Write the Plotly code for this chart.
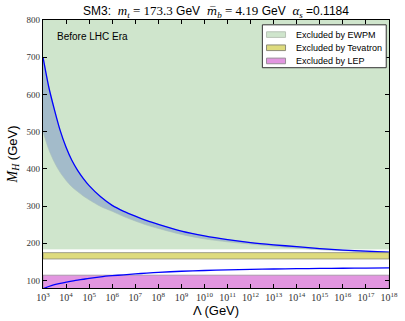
import numpy as np
import plotly.graph_objects as go

# Cutoff scale Lambda, as log10(Lambda / GeV)
log_lambda = [3, 3.25, 3.5, 3.75, 4, 4.25, 4.5, 4.75, 5, 5.5, 6, 6.5, 7, 7.5, 8, 9, 10,
              11, 12, 13, 14, 15, 16, 17, 18]

# Upper (triviality) bound on M_H and the lower edge of its uncertainty band, GeV
upper_bound = [700, 620, 558, 502, 458, 423, 396, 374, 355, 325, 302, 286, 273, 261, 251,
               233, 220, 210, 202, 196, 191, 186, 182, 179, 176]
upper_band_low = [500, 452, 417, 390, 369, 352, 339, 327, 317, 299, 286, 272, 260, 249, 240,
                  224, 212, 204, 198, 192, 187, 183, 180, 177, 175]

# Lower (vacuum stability) bound on M_H, GeV
stability_bound = [78, 84, 89, 92.5, 95.5, 98.5, 101, 103.5, 106, 110, 113, 115.5, 118, 120, 122,
                   125, 127, 128.5, 130, 131, 132, 132.5, 133, 133.5, 134]

# Excluded mass windows, GeV
ewpm_window = [185, 800]
tevatron_window = [158, 175]
lep_window = [60, 114.4]

legend_labels = ["Excluded by EWPM", "Excluded by Tevatron", "Excluded by LEP"]

x_tick_exponents = list(range(3, 19))
y_ticks = [100, 200, 300, 400, 500, 600, 700, 800]

lam = 10.0 ** np.array(log_lambda, dtype=float)
x_lo, x_hi = lam[0], lam[-1]

SANS = "Liberation Sans, Arial, sans-serif"
SERIF = "Liberation Serif, Times New Roman, serif"

fills = ["#cfe5cc", "#dedb7d", "#e296e0"]
edges = ["#b9c4b7", "#8c8c78", "#9a8f9a"]


def window_trace(lims, fill, edge):
    lo, hi = lims
    return go.Scatter(
        x=[x_lo, x_hi, x_hi, x_lo, x_lo],
        y=[lo, lo, hi, hi, lo],
        mode="lines",
        fill="toself",
        fillcolor=fill,
        line=dict(color=edge, width=0.8),
        showlegend=False,
        hoverinfo="skip",
    )


fig = go.Figure()

fig.add_trace(window_trace(ewpm_window, fills[0], fills[0]))

# Uncertainty band under the triviality bound
fig.add_trace(go.Scatter(
    x=list(lam) + list(lam[::-1]),
    y=upper_band_low + upper_bound[::-1],
    mode="lines",
    fill="toself",
    fillcolor="#a3bbca",
    line=dict(width=0.6, color="#a9bfb8", shape="spline", smoothing=0.8),
    showlegend=False,
    hoverinfo="skip",
))

fig.add_trace(go.Scatter(
    x=lam, y=upper_bound, mode="lines",
    line=dict(color="#0000ff", width=1.3, shape="spline", smoothing=0.8),
    showlegend=False,
))

fig.add_trace(window_trace(tevatron_window, fills[1], edges[1]))
fig.add_trace(window_trace(lep_window, fills[2], edges[2]))

fig.add_trace(go.Scatter(
    x=lam, y=stability_bound, mode="lines",
    line=dict(color="#0000ff", width=1.3, shape="spline", smoothing=0.8),
    showlegend=False,
))

# Legend box drawn in paper coordinates
shapes = [dict(
    type="rect", xref="paper", yref="paper",
    x0=0.634, x1=0.992, y0=0.822, y1=0.982,
    fillcolor="white", line=dict(color="#333333", width=1), layer="above",
)]
annotations = []
row_y = [0.9455, 0.8964, 0.8473]
for label, fill, edge, yc in zip(legend_labels, fills, edges, row_y):
    shapes.append(dict(
        type="rect", xref="paper", yref="paper",
        x0=0.646, x1=0.701, y0=yc - 0.0105, y1=yc + 0.0105,
        fillcolor=fill, line=dict(color=edge, width=1), layer="above",
    ))
    annotations.append(dict(
        text=label, x=0.724, xref="paper", xanchor="left",
        y=yc, yref="paper", yanchor="middle", showarrow=False,
        font=dict(family=SANS, size=9, color="black"),
    ))

annotations.append(dict(
    text="Before LHC Era",
    x=0.034, xref="paper", xanchor="left",
    y=0.94, yref="paper", yanchor="middle",
    showarrow=False,
    font=dict(family=SANS, size=10, color="black"),
))

MATH = "font-family:Liberation Serif;font-size:13px"
BAR = "font-family:DejaVu Serif;font-size:11px"
title = (
    f"SM3:  <span style=\"{MATH}\"><i>m<sub>t</sub></i> = 173.3</span> GeV  "
    f"<span style=\"{BAR}\"><i>m\u0305</i></span><span style=\"{MATH}\"><i><sub>b</sub></i> = 4.19</span> GeV  "
    f"<span style=\"{MATH}\"><i>\u03b1<sub>s</sub></i></span> =0.1184"
)

fig.update_layout(
    width=405,
    height=321,
    margin=dict(l=43, r=7, t=20, b=26),
    paper_bgcolor="white",
    plot_bgcolor="white",
    title=dict(
        text=title,
        x=0.5, xref="paper", xanchor="center",
        y=1 - 11 / 321, yanchor="middle",
        font=dict(family=SANS, size=12, color="black"),
    ),
    showlegend=False,
    shapes=shapes,
    annotations=annotations,
)

fig.update_xaxes(
    type="log",
    range=[log_lambda[0], log_lambda[-1]],
    tickvals=[10.0 ** e for e in x_tick_exponents],
    ticktext=[f"10<sup>{e}</sup>" for e in x_tick_exponents],
    ticklabeloverflow="allow",
    ticks="inside", ticklen=4, tickwidth=1, tickcolor="black",
    showline=True, linecolor="black", linewidth=1.2, mirror="ticks",
    showgrid=False, zeroline=False,
    tickfont=dict(family=SERIF, size=10, color="#333333"),
    title=dict(text="\u039b (GeV)", font=dict(family=SANS, size=13, color="black"), standoff=2),
)

fig.update_yaxes(
    range=[80, 800],
    tickvals=y_ticks,
    ticks="inside", ticklen=4, tickwidth=1, tickcolor="black",
    showline=True, linecolor="black", linewidth=1.2, mirror="ticks",
    showgrid=False, zeroline=False,
    tickfont=dict(family=SERIF, size=9, color="#333333"),
    title=dict(
        text="<span style=\"font-family:Liberation Serif;font-size:14px\"><i>M<sub>H</sub></i></span> (GeV)",
        font=dict(family=SANS, size=13, color="black"), standoff=6,
    ),
)

fig.write_html("out.html")
